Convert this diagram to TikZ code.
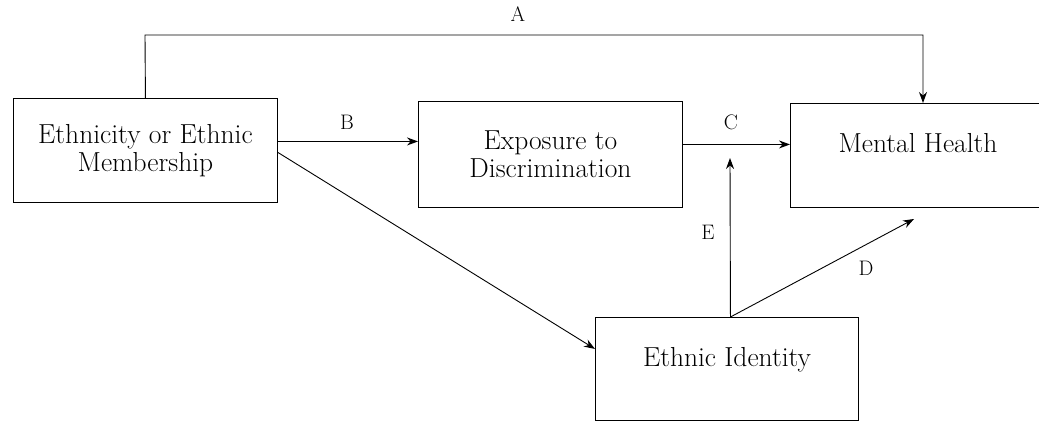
\documentclass[tikz,border=0pt]{standalone}
\usetikzlibrary{arrows.meta}
\begin{document}
\begin{tikzpicture}[x=1pt,y=-1pt,
  box/.style={draw, line width=0.9pt, rectangle, inner sep=0pt, anchor=north west, align=center, font=\fontsize{27.5}{28}\selectfont},
  lbl/.style={inner sep=0pt, font=\fontsize{27.5}{28}\selectfont},
  tag/.style={inner sep=0pt, font=\fontsize{21}{24}\selectfont},
  arr/.style={line width=0.9pt, -{Stealth[length=11pt,width=8pt]}},
  ln/.style={line width=0.9pt}]
\useasboundingbox (0,0) rectangle (1039,422);
% boxes
\node[box, minimum width=264pt, minimum height=104pt] (eth) at (13,98) {Ethnicity or Ethnic\\Membership};
\node[box, minimum width=264pt, minimum height=106pt] (exp) at (418,101) {Exposure to\\Discrimination};
\node[box, minimum width=270pt, minimum height=104pt] (mh) at (790,103) {};
\node[lbl] (mhtext) at (918,143) {Mental Health};
\node[box, minimum width=263pt, minimum height=103pt] (idn) at (595,317) {};
\node[lbl] (idntext) at (727,360) {Ethnic Identity};
% A
\coordinate (a1) at (145,35);
\coordinate (a2) at (923,35);
\draw[arr] (eth.north) -- (a1) -- (a2) -- (a2 |- mh.north);
\node[tag] (la) at (518,14) {A};
% B
\draw[arr] ([yshift=9pt]eth.east) -- ([yshift=9pt]eth.east -| exp.west);
\node[tag] (lb) at (347,122) {B};
% C
\draw[arr] ([yshift=10pt]exp.east) -- ([yshift=10pt]exp.east -| mh.west);
\node[tag] (lc) at (731,122) {C};
% diagonal to ethnic identity
\draw[arr] ([yshift=-2pt]eth.east) -- ([yshift=20pt]idn.west);
% E
\coordinate (etip) at (730,158);
\draw[arr] ([xshift=3.5pt]idn.north) -- (etip);
\node[tag] (le) at (708,232) {E};
% D
\coordinate (dtip) at (914,219);
\draw[arr] ([xshift=3.5pt]idn.north) -- (dtip);
\node[tag] (ld) at (866,268) {D};
\end{tikzpicture}
\end{document}
